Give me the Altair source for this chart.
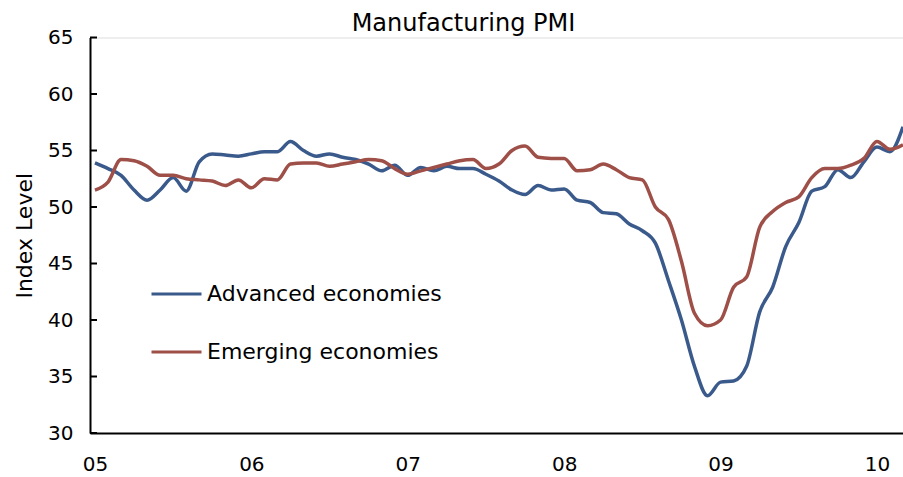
import altair as alt
import pandas as pd

# months since Jan 2005
months = list(range(0, 63))
year_labels = ["05", "06", "07", "08", "09", "10"]
year_ticks = [0, 12, 24, 36, 48, 60]

advanced = [53.9, 53.4, 52.8, 51.5, 50.6, 51.5, 52.6, 51.4, 54.0, 54.7,
            54.6, 54.5, 54.7, 54.9, 54.9, 55.8, 55.0, 54.5, 54.7, 54.4,
            54.2, 53.8, 53.2, 53.7, 52.8, 53.5, 53.2, 53.6, 53.4, 53.4,
            52.9, 52.3, 51.5, 51.1, 51.9, 51.5, 51.6, 50.6, 50.4, 49.5,
            49.4, 48.5, 47.9, 46.8, 43.5, 40.0, 35.9, 33.3, 34.5, 34.6,
            35.9, 40.7, 42.9, 46.5, 48.6, 51.4, 51.8, 53.3, 52.6, 54.0,
            55.3, 54.9, 57.1]
emerging = [51.5, 52.2, 54.2, 54.1, 53.6, 52.8, 52.8, 52.5, 52.4, 52.3,
            51.9, 52.4, 51.7, 52.5, 52.4, 53.8, 53.9, 53.9, 53.6, 53.8,
            54.0, 54.2, 54.1, 53.4, 52.9, 53.2, 53.5, 53.8, 54.1, 54.2,
            53.4, 53.8, 55.0, 55.4, 54.4, 54.3, 54.3, 53.2, 53.3, 53.8,
            53.3, 52.6, 52.4, 50.0, 48.9, 45.2, 40.6, 39.5, 40.0, 42.9,
            43.8, 48.2, 49.6, 50.4, 50.9, 52.6, 53.4, 53.4, 53.7, 54.3,
            55.8, 55.1, 55.5]
series_names = ["Advanced economies", "Emerging economies"]
series_colors = ["#3B5A8C", "#9E4F47"]
y_ticks = [30, 35, 40, 45, 50, 55, 60, 65]

df = pd.DataFrame({
    "m": months * 2,
    "value": advanced + emerging,
    "series": [series_names[0]] * len(months) + [series_names[1]] * len(months),
})
ticks_df = pd.DataFrame({"v": y_ticks})

FONT = "DejaVu Sans"
label_expr = "[" + ",".join("'%s'" % s for s in year_labels) + "][round(datum.value/12)]"

xscale = alt.Scale(domain=[-0.38, 62], nice=False, zero=False)
yscale = alt.Scale(domain=[30, 65], nice=False, zero=False)

lines = alt.Chart(df).mark_line(strokeWidth=3.5, interpolate="monotone").encode(
    x=alt.X("m:Q", scale=xscale,
            axis=alt.Axis(values=year_ticks, labelExpr=label_expr, title=None,
                          ticks=False, grid=False, domainColor="black", domainWidth=2,
                          labelFont=FONT, labelFontSize=20, labelColor="black",
                          labelPadding=21, labelAlign="center")),
    y=alt.Y("value:Q", scale=yscale,
            axis=alt.Axis(values=y_ticks, title="Index Level", ticks=False, grid=False,
                          domainColor="black", domainWidth=2,
                          labelFont=FONT, labelFontSize=20, labelColor="black",
                          labelPadding=17, titleFont=FONT, titleFontSize=22,
                          titleFontWeight="normal", titleColor="black", titlePadding=11)),
    color=alt.Color("series:N",
                    scale=alt.Scale(domain=series_names, range=series_colors),
                    legend=alt.Legend(title=None, orient="none", legendX=60, legendY=230,
                                      symbolType="stroke", symbolSize=2500,
                                      symbolStrokeWidth=3, labelFont=FONT,
                                      labelFontSize=22, labelColor="black",
                                      labelOffset=4, rowPadding=20, labelLimit=400)),
)

ticks = alt.Chart(ticks_df).mark_rule(color="black", strokeWidth=2).encode(
    y=alt.Y("v:Q", scale=yscale),
    x=alt.value(0),
    x2=alt.value(7),
)

chart = alt.layer(lines, ticks).properties(
    width=813,
    height=395.5,
    title=alt.TitleParams("Manufacturing PMI", font=FONT, fontSize=24,
                          fontWeight="normal", color="black", anchor="middle",
                          dx=-33, offset=-8),
    autosize=alt.AutoSizeParams(type="none"),
    padding={"left": 90, "top": 37.5, "right": 0, "bottom": 44},
).configure_view(stroke=None).configure(background="white")

chart.save("out.html", embed_options={"renderer": "svg", "actions": False})
